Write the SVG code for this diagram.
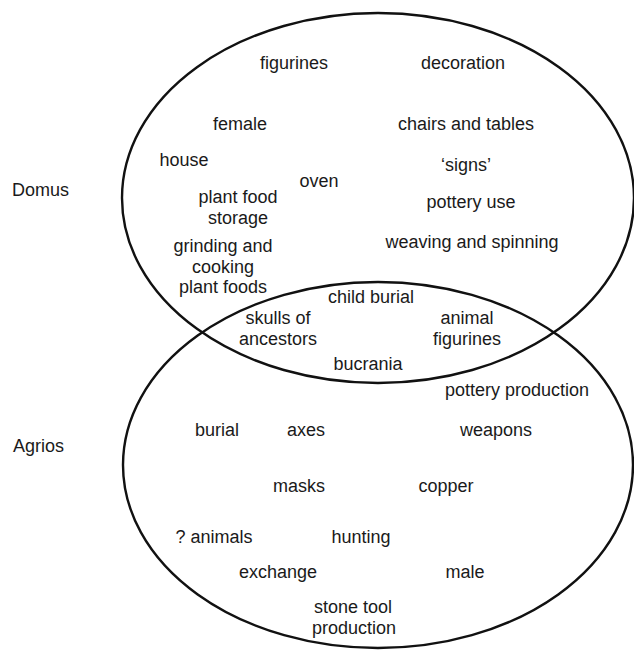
<svg xmlns="http://www.w3.org/2000/svg" width="634" height="650" viewBox="0 0 634 650">
<style>
.c{fill:none;stroke:#111;stroke-width:2.4}
text{font-family:"Liberation Sans",Arial,sans-serif;font-size:18px;fill:#1a1a1a;text-anchor:middle}
.l{text-anchor:start}
</style>
<rect width="634" height="650" fill="#fff"/>
<g id="domus">
<ellipse class="c" cx="378" cy="198" rx="256" ry="185"/>
<text class="l" x="12" y="196">Domus</text>
<text x="294" y="69">figurines</text>
<text x="463" y="69">decoration</text>
<text x="240" y="130">female</text>
<text x="466" y="130">chairs and tables</text>
<text x="184" y="166">house</text>
<text x="466" y="171">‘signs’</text>
<text x="319" y="187">oven</text>
<text x="238" y="203">plant food</text>
<text x="238" y="224">storage</text>
<text x="471" y="208">pottery use</text>
<text x="223" y="252">grinding and</text>
<text x="223" y="273">cooking</text>
<text x="223" y="293">plant foods</text>
<text x="472" y="248">weaving and spinning</text>
</g>
<g id="agrios">
<ellipse class="c" cx="378" cy="465" rx="255" ry="183"/>
<text class="l" x="13" y="452">Agrios</text>
<text x="517" y="396">pottery production</text>
<text x="217" y="436">burial</text>
<text x="306" y="436">axes</text>
<text x="496" y="436">weapons</text>
<text x="299" y="492">masks</text>
<text x="446" y="492">copper</text>
<text x="214" y="543">? animals</text>
<text x="361" y="543">hunting</text>
<text x="278" y="578">exchange</text>
<text x="465" y="578">male</text>
<text x="353" y="613">stone tool</text>
<text x="354" y="634">production</text>
</g>
<g id="overlap">
<text x="371" y="303">child burial</text>
<text x="278" y="324">skulls of</text>
<text x="278" y="345">ancestors</text>
<text x="467" y="324">animal</text>
<text x="467" y="345">figurines</text>
<text x="368" y="370">bucrania</text>
</g>
<g id="connectors"></g>
</svg>
